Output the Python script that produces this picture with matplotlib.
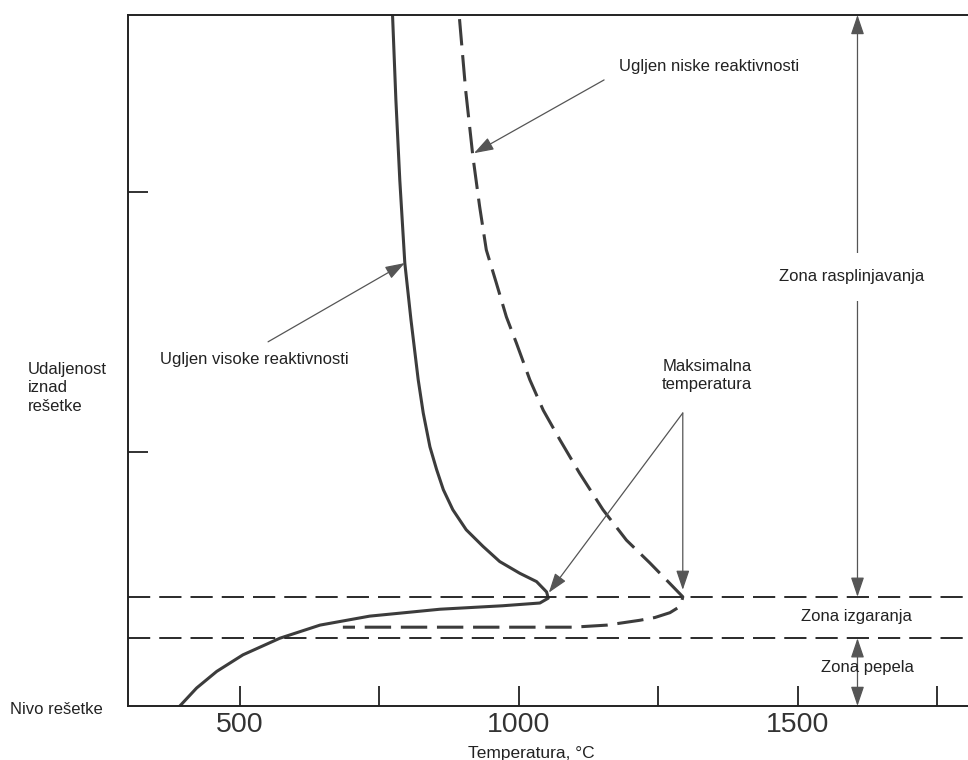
import matplotlib.pyplot as plt

plt.rcParams['font.family'] = ['Liberation Sans', 'DejaVu Sans']
plt.rcParams['lines.scale_dashes'] = False

# -------------------------------
# 1. Podaci (procijenjeno sa slike)
# -------------------------------
# visina iznad resetke u relativnim jedinicama (0 = resetka, 100 = vrh)
# ugljen visoke reaktivnosti (puna linija)
visoka_temp = [774, 780, 787, 796, 807, 820, 829, 841, 853, 865, 882, 906, 936, 966,
               1002, 1032, 1050, 1053, 1038, 971, 859, 733, 644, 572, 506, 459, 423, 393]
visoka_h = [100, 87.7, 76.1, 64.1, 55.9, 47.2, 42.4, 37.5, 34.2, 31.3, 28.4, 25.5, 23.1,
            20.9, 19.2, 18.0, 16.5, 15.6, 14.9, 14.5, 14.0, 13.0, 11.7, 9.8, 7.4, 5.0, 2.6, 0]

# ugljen niske reaktivnosti (isprekidana linija)
niska_temp = [894, 905, 918, 930, 942, 960, 978, 996, 1020, 1044, 1074, 1109, 1151, 1193,
              1235, 1276, 1294, 1292, 1285, 1271, 1244, 1217, 1158, 1097, 979, 859, 685]
niska_h = [99.4, 89.1, 79.5, 72.3, 66.0, 61.2, 56.3, 52.5, 47.2, 42.8, 38.5, 33.7, 28.4,
           24.0, 20.7, 17.3, 15.8, 15.1, 14.2, 13.5, 12.8, 12.4, 11.7, 11.4, 11.4, 11.4, 11.4]

# granice zona
granica_izgaranja = 15.8
granica_pepela = 9.8

x_major = [500, 1000, 1500]
x_minor = [750, 1250, 1750]
y_ticks = [36.8, 74.4]

# -------------------------------
# 2. Crtanje
# -------------------------------
fig = plt.figure(figsize=(9.68, 7.6), dpi=100)
ax = fig.add_axes([0.1322, 0.0711, 0.8678, 0.9092])

ax.plot(visoka_temp, visoka_h, color="#3c3c3c", lw=2.2, solid_joinstyle="round")
ax.plot(niska_temp, niska_h, color="#3c3c3c", lw=2.2, dashes=(19, 7))

ax.axhline(granica_izgaranja, color="#2a2a2a", lw=1.4, dashes=(16, 6.5))
ax.axhline(granica_pepela, color="#2a2a2a", lw=1.4, dashes=(16, 6.5))

ax.set_xlim(300, 1805)
ax.set_ylim(0, 100)

ax.set_xticks(x_major)
ax.set_xticklabels([str(v) for v in x_major], fontsize=20.5, color="#333333")
ax.set_xticks(x_minor, minor=True)
ax.set_yticks(y_ticks)
ax.set_yticklabels([])
ax.tick_params(which="both", direction="in", length=14.4, width=1.3, color="#222222", pad=4)

for side in ["left", "bottom", "top"]:
    ax.spines[side].set_linewidth(1.4)
    ax.spines[side].set_color("#222222")
ax.spines["right"].set_visible(False)

# -------------------------------
# 3. Oznake i strelice
# -------------------------------
strelica = dict(arrowstyle="-|>,head_length=0.5,head_width=0.17", color="#555555",
                lw=0.9, mutation_scale=24, shrinkA=0, shrinkB=0)
dvostruka = dict(arrowstyle="<|-|>,head_length=0.5,head_width=0.17", color="#555555",
                 lw=0.9, mutation_scale=24, shrinkA=0, shrinkB=0)
tekst = dict(fontsize=12, color="#222222")

ax.annotate("", xy=(796, 64.1), xytext=(551, 52.7), arrowprops=strelica)
ax.text(357, 50.1, "Ugljen visoke reaktivnosti", ha="left", va="center", **tekst)

ax.annotate("", xy=(920, 80.0), xytext=(1153, 90.6), arrowprops=strelica)
ax.text(1179, 92.5, "Ugljen niske reaktivnosti", ha="left", va="center", **tekst)

ax.text(1337, 47.8, "Maksimalna\ntemperatura", ha="center", va="center",
        linespacing=1.2, **tekst)
ax.annotate("", xy=(1054, 16.4), xytext=(1294, 42.4), arrowprops=strelica)
ax.annotate("", xy=(1294, 16.8), xytext=(1294, 42.4), arrowprops=strelica)

ax.annotate("", xy=(1607, 100), xytext=(1607, granica_izgaranja), arrowprops=dvostruka)
ax.text(1597, 62.1, "Zona rasplinjavanja", ha="center", va="center", zorder=5,
        bbox=dict(boxstyle="square,pad=1.0", fc="white", ec="none"), **tekst)

ax.text(1606, 13.0, "Zona izgaranja", ha="center", va="center", **tekst)

ax.annotate("", xy=(1607, granica_pepela), xytext=(1607, 0), arrowprops=dvostruka)
ax.text(1624, 5.5, "Zona pepela", ha="center", va="center", **tekst)

fig.text(0.0289, 0.4895, "Udaljenost\niznad\nrešetke", ha="left", va="center",
         linespacing=1.28, **tekst)
fig.text(0.0103, 0.0658, "Nivo rešetke", ha="left", va="center", **tekst)
fig.text(0.5486, 0.0092, "Temperatura, °C", ha="center", va="center",
         fontsize=12.5, color="#222222")

fig.savefig("out.png", dpi=100)
